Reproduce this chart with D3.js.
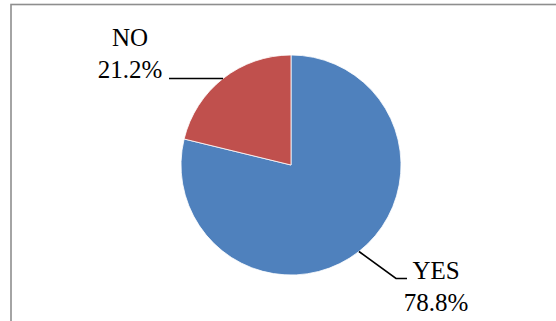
<!DOCTYPE html>
<html>
<head>
<meta charset="utf-8">
<script src="https://cdn.jsdelivr.net/npm/d3@7"></script>
<style>
  html, body { margin: 0; padding: 0; background: #fff; }
  svg { display: block; }
  text { font-family: "Liberation Serif", "Times New Roman", serif; fill: #000; }
</style>
</head>
<body>
<svg id="chart" width="556" height="321"></svg>
<script>
// Survey answers and their shares (%)
const categories = ["YES", "NO"];
const values = [78.8, 21.2];
const colors = ["#4F81BD", "#C0504D"];

const svg = d3.select("#chart");
const W = 556, H = 321;

// Chart frame (runs off the right and bottom of the page)
svg.append("rect")
  .attr("x", 11).attr("y", 4.5)
  .attr("width", W + 20).attr("height", H + 20)
  .attr("fill", "#fff")
  .attr("stroke", "#8e8e8e")
  .attr("stroke-width", 1.6);

const cx = 291, cy = 165, r = 110;

const data = categories.map((c, i) => ({ name: c, value: values[i], color: colors[i] }));

const pie = d3.pie().value(d => d.value).sort(null).startAngle(0).endAngle(2 * Math.PI);
const arcs = pie(data);
const arc = d3.arc().innerRadius(0).outerRadius(r);

const g = svg.append("g").attr("transform", `translate(${cx},${cy})`);

g.selectAll("path.slice")
  .data(arcs)
  .join("path")
  .attr("class", "slice")
  .attr("d", arc)
  .attr("fill", d => d.data.color)
  .attr("stroke", "#fff")
  .attr("stroke-width", 0.8);

// Leader lines start at the edge of each slice, at its middle angle
function edgePoint(d) {
  const a = (d.startAngle + d.endAngle) / 2;
  return [cx + r * Math.sin(a), cy - r * Math.cos(a)];
}

const fmt = v => v.toFixed(1) + "%";

// Label layout for each slice: text anchor point and leader path
const labelLayout = {
  YES: p => ({
    tx: 436, ty: 279,
    path: [p, [396, 278.5], [407, 278.5]]
  }),
  NO: p => ({
    tx: 130, ty: 46,
    path: [p, [169, p[1]]]
  })
};

const line = d3.line();
const labels = svg.append("g");

arcs.forEach(d => {
  const p = edgePoint(d);
  const L = labelLayout[d.data.name](p);
  labels.append("path")
    .attr("d", line(L.path))
    .attr("fill", "none")
    .attr("stroke", "#000")
    .attr("stroke-width", 1.6);
  const t = labels.append("text")
    .attr("x", L.tx).attr("y", L.ty)
    .attr("text-anchor", "middle")
    .attr("font-size", 25);
  t.append("tspan").attr("x", L.tx).text(d.data.name);
  t.append("tspan").attr("x", L.tx).attr("dy", 31.5).text(fmt(d.data.value));
});
</script>
</body>
</html>
